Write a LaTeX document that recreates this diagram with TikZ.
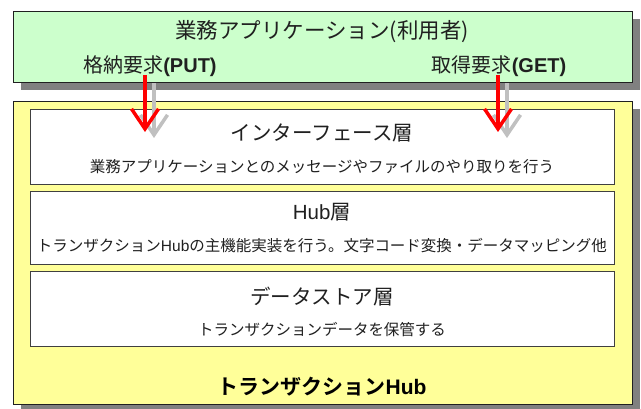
\documentclass[tikz,border=0pt]{standalone}
\usepackage{fontspec}
\setmainfont{Liberation Sans}
\newfontfamily\jp{Noto Sans CJK JP}[BoldFont=* Bold]
\usetikzlibrary{arrows.meta}
\definecolor{appgreen}{HTML}{CCFFCC}
\definecolor{hubyellow}{HTML}{FFFF99}
\definecolor{shadowgray}{HTML}{808080}
\definecolor{arrowgray}{HTML}{C0C0C0}
\definecolor{inkgray}{HTML}{202020}
\definecolor{boxline}{HTML}{404040}
\tikzset{
  panel/.style={draw=inkgray, line width=1pt, anchor=north west, inner sep=0pt},
  layerbox/.style={draw=boxline, line width=1pt, fill=white, anchor=north west, inner sep=0pt, minimum width=584.5pt},
  txt/.style={inner sep=0pt, text=inkgray, font=\jp},
  redarrow/.style={draw=red, line width=3.5pt, -{Straight Barb[length=20pt,width=27pt]}},
  grayarrow/.style={draw=arrowgray, line width=3.5pt, -{Straight Barb[length=20pt,width=27pt]}}
}
\begin{document}
\begin{tikzpicture}[x=1pt,y=-1pt]
\useasboundingbox (0,0) rectangle (641,409);
% shadows
\fill[shadowgray] (21,19) rectangle (640,90);
\fill[shadowgray] (21,109) rectangle (640,412);
% main panels
\node[panel, fill=appgreen, minimum width=618.5pt, minimum height=71pt] (app) at (13,11) {};
\node[panel, fill=hubyellow, minimum width=618.5pt, minimum height=303pt] (hub) at (13,101) {};
% layers
\node[layerbox, minimum height=75pt] (ifl) at (29.5,109) {};
\node[layerbox, minimum height=72.5pt] (hubl) at (29.5,191.5) {};
\node[layerbox, minimum height=74.5pt] (dsl) at (29.5,271.5) {};
% texts
\node[txt, font=\jp\fontsize{21.5}{25}\selectfont] (title) at (322,32) {業務アプリケーション(利用者)};
\node[txt, font=\jp\fontsize{20}{24}\selectfont] (put) at (150,66) {格納要求{\rmfamily\bfseries (PUT)}};
\node[txt, font=\jp\fontsize{20}{24}\selectfont] (get) at (499,66) {取得要求{\rmfamily\bfseries (GET)}};
\node[txt, font=\jp\fontsize{20.5}{24}\selectfont] (ift) at (322,133) {インターフェース層};
\node[txt, font=\jp\fontsize{15.5}{18}\selectfont] (ifs) at (322,167) {業務アプリケーションとのメッセージやファイルのやり取りを行う};
\node[txt, font=\jp\fontsize{20.5}{24}\selectfont] (hubt) at (322,212) {{\rmfamily Hub}層};
\node[txt, font=\jp\fontsize{15.5}{18}\selectfont] (hubs) at (322,246) {トランザクション{\rmfamily Hub}の主機能実装を行う。文字コード変換・データマッピング他};
\node[txt, font=\jp\fontsize{20.5}{24}\selectfont] (dst) at (322,297) {データストア層};
\node[txt, font=\jp\fontsize{15.5}{18}\selectfont] (dss) at (322,330) {トランザクションデータを保管する};
\node[txt, text=black, font=\jp\bfseries\fontsize{21}{25}\selectfont] (hubname) at (322,387) {トランザクション{\rmfamily\bfseries Hub}};
% arrows
\coordinate (p1) at (145,75);
\coordinate (p2) at (145,132);
\coordinate (g1) at (154,83);
\coordinate (g2) at (154,138);
\coordinate (q1) at (498,75);
\coordinate (q2) at (498,132);
\coordinate (h1) at (507,83);
\coordinate (h2) at (507,138);
\draw[grayarrow] (g1) -- (g2);
\draw[grayarrow] (h1) -- (h2);
\draw[redarrow] (p1) -- (p2);
\draw[redarrow] (q1) -- (q2);
\end{tikzpicture}
\end{document}
